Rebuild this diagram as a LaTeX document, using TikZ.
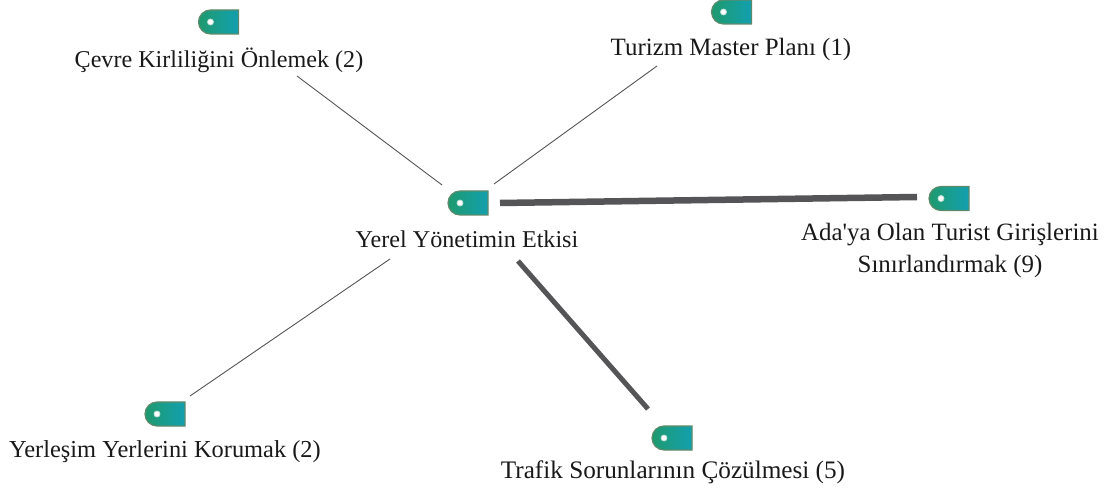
\documentclass[tikz,border=0pt]{standalone}
\usepackage{fontspec}
\setmainfont{Liberation Serif}
\usetikzlibrary{shapes.misc}
\definecolor{icgreen}{HTML}{1F9A6E}
\definecolor{icteal}{HTML}{12A0B0}
\definecolor{icedge}{HTML}{5E8A6C}
\definecolor{linkc}{HTML}{555558}
\tikzset{
  x=1bp,y=-1bp,
  icon/.style={rounded rectangle,rounded rectangle right arc=none,minimum width=40bp,minimum height=24bp,inner sep=0pt,
    draw=icedge,line width=1.2bp,left color=icgreen,right color=icteal},
  dot/.style={circle,fill=white,draw=white!70!icgreen,line width=0.8bp,minimum size=6bp,inner sep=0pt},
  lab/.style={font=\fontsize{#1}{32.5}\selectfont,align=center,text=black!90,inner sep=0pt},
  lab/.default=24.2,
  thin link/.style={draw=linkc,line width=0.9bp},
  thick link/.style={draw=linkc,line width=6.5bp},
  mid link/.style={draw=linkc,line width=5bp}
}
\begin{document}
\begin{tikzpicture}
\useasboundingbox (0,0) rectangle (1117,493);
\node[icon] (i0) at (468,203) {}; \node[dot] (d0) at (460,203) {};
\node[icon] (i1) at (218.5,22) {}; \node[dot] (d1) at (210.5,22) {};
\node[icon] (i2) at (731.5,12) {}; \node[dot] (d2) at (723.5,12) {};
\node[icon] (i3) at (949,198.5) {}; \node[dot] (d3) at (941,198.5) {};
\node[icon] (i4) at (165,414) {}; \node[dot] (d4) at (157,414) {};
\node[icon] (i5) at (672,438) {}; \node[dot] (d5) at (664,438) {};
\node[lab] (t0) at (467,239.5) {Yerel Yönetimin Etkisi};
\node[lab] (t1) at (219,60) {Çevre Kirliliğini Önlemek (2)};
\node[lab=25] (t2) at (731,50) {Turizm Master Planı (1)};
\node[lab=25] (t3) at (950,250.5) {Ada\textquotesingle ya Olan Turist Girişlerini\\Sınırlandırmak (9)};
\node[lab=24.5] (t4) at (165,451.5) {Yerleşim Yerlerini Korumak (2)};
\node[lab=25.3] (t5) at (673,472) {Trafik Sorunlarının Çözülmesi (5)};
\coordinate (a1) at (442,185); \coordinate (b1) at (297,76);
\coordinate (a2) at (494,184); \coordinate (b2) at (657,66);
\coordinate (a3) at (500,203); \coordinate (b3) at (917,197);
\coordinate (a4) at (390,259); \coordinate (b4) at (190,396);
\coordinate (a5) at (518,261); \coordinate (b5) at (648,409);
\draw[thin link] (a1) -- (b1);
\draw[thin link] (a2) -- (b2);
\draw[thick link] (a3) -- (b3);
\draw[thin link] (a4) -- (b4);
\draw[mid link] (a5) -- (b5);
\end{tikzpicture}
\end{document}
